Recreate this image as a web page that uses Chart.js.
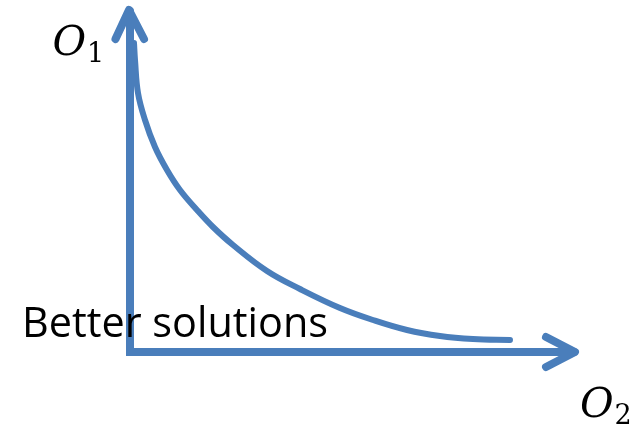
<!DOCTYPE html>
<html>
<head>
<meta charset="utf-8">
<script src="https://cdn.jsdelivr.net/npm/chart.js@4"></script>
<style>
  body { margin: 0; background: #fff; }
</style>
</head>
<body>
<canvas id="paretoChart" width="635" height="425"></canvas>
<script>
// Pareto front (O2 along x, O1 along y)
const frontO2 = [0.08, 0.10, 0.16, 0.30, 0.50, 0.74, 1.00, 1.34, 1.66, 2.06, 2.74, 3.40, 4.20, 4.86, 5.54, 6.20, 6.86, 7.60];
const frontO1 = [6.18, 5.84, 5.18, 4.64, 4.10, 3.64, 3.24, 2.84, 2.50, 2.14, 1.62, 1.26, 0.88, 0.64, 0.44, 0.32, 0.26, 0.24];

// axes drawn as arrows
const axisX = [0, 0, 8.88];
const axisY = [6.82, 0, 0];
const headYx = [-0.29, -0.02, 0.28];
const headYy = [6.26, 6.84, 6.26];
const headXx = [8.32, 8.90, 8.32];
const headXy = [0.30, 0, -0.30];

// text labels
const labels = [
    { text: 'O', sub: '1', x: -1.55, y: 5.94, italic: true },
    { text: 'O', sub: '2', x: 9.0, y: -1.3, italic: true },
    { text: 'Better solutions', sub: '', x: -2.16, y: 0.3, italic: false }
];

const blue = '#4A7EBB';

function toPoints(xs, ys) {
    return xs.map((x, i) => ({ x: x, y: ys[i] }));
}

const labelPlugin = {
    id: 'labelPlugin',
    afterDraw(chart) {
        const ctx = chart.ctx;
        const sx = chart.scales.x;
        const sy = chart.scales.y;
        ctx.save();
        ctx.fillStyle = '#000';
        ctx.textBaseline = 'alphabetic';
        labels.forEach(l => {
            const px = sx.getPixelForValue(l.x);
            const py = sy.getPixelForValue(l.y);
            if (l.italic) {
                ctx.font = 'italic 41px "DejaVu Serif"';
                ctx.fillText(l.text, px, py);
                const w = ctx.measureText(l.text).width;
                ctx.font = '27px "DejaVu Serif"';
                ctx.fillText(l.sub, px + w + 1, py + 7);
            } else {
                ctx.font = '42px "Open Sans"';
                const w = ctx.measureText(l.text).width;
                ctx.save();
                ctx.translate(px, py);
                ctx.scale(306 / w, 1);
                ctx.fillText(l.text, 0, 0);
                ctx.restore();
            }
        });
        ctx.restore();
    }
};

const lineStyle = {
    showLine: true,
    pointRadius: 0,
    borderColor: blue,
    borderCapStyle: 'round',
    borderJoinStyle: 'miter',
    fill: false
};

const ctx = document.getElementById('paretoChart').getContext('2d');
const paretoChart = new Chart(ctx, {
    type: 'scatter',
    data: {
        datasets: [
            Object.assign({}, lineStyle, { data: toPoints(axisX, axisY), borderWidth: 8 }),
            Object.assign({}, lineStyle, { data: toPoints(headYx, headYy), borderWidth: 8, borderJoinStyle: 'round' }),
            Object.assign({}, lineStyle, { data: toPoints(headXx, headXy), borderWidth: 8, borderJoinStyle: 'round' }),
            Object.assign({}, lineStyle, { data: toPoints(frontO2, frontO1), borderWidth: 6, tension: 0.4 })
        ]
    },
    options: {
        responsive: false,
        animation: false,
        layout: { padding: 0 },
        plugins: {
            legend: { display: false },
            tooltip: { enabled: false }
        },
        scales: {
            x: { type: 'linear', min: -2.6, max: 10.1, display: false },
            y: { type: 'linear', min: -1.46, max: 7.04, display: false }
        }
    },
    plugins: [labelPlugin]
});
</script>
</body>
</html>
